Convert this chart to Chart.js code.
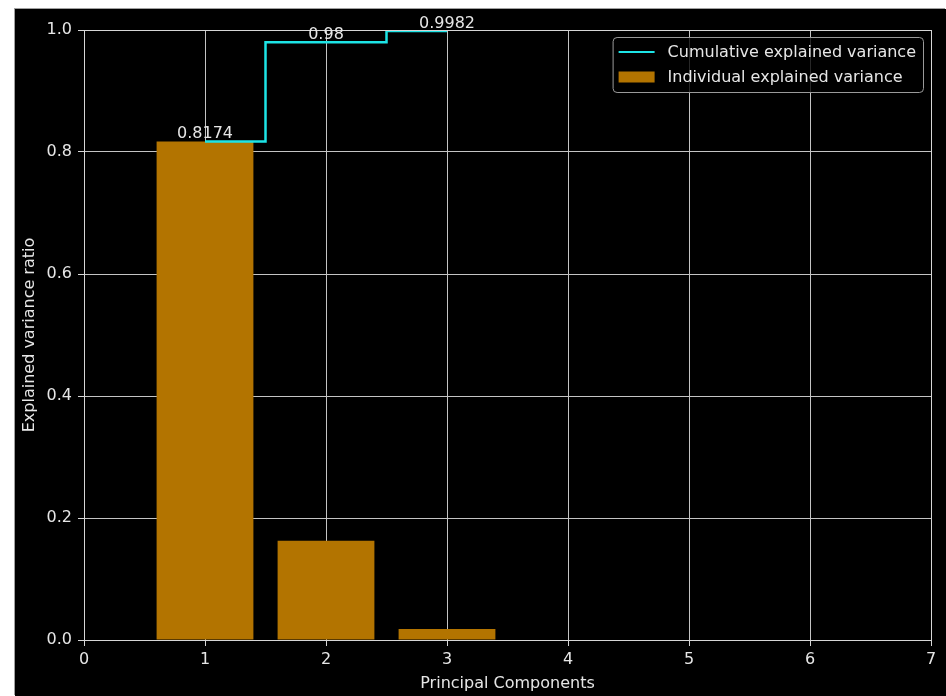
<!DOCTYPE html>
<html>
<head>
<meta charset="utf-8">
<script src="https://cdn.jsdelivr.net/npm/chart.js@4/dist/chart.umd.min.js"></script>
<style>
  html, body { margin: 0; padding: 0; background: #fff; }
  #frame { position: absolute; left: 15px; top: 9px; width: 931px; height: 687px; background: #000; box-shadow: -1px -1px 0 #a0a0a0; }
  canvas { display: block; }
</style>
</head>
<body>
<div id="frame"><canvas id="pca" width="931" height="687"></canvas></div>
<script>
/* PCA explained variance: individual bars + cumulative step line */
const components = [1, 2, 3];
const individualVariance = [0.8174, 0.1626, 0.0182];
const cumulativeVariance = [0.8174, 0.98, 0.9982];
const cumulativeLabels = ["0.8174", "0.98", "0.9982"];
const xRange = [0, 7];
const yRange = [0, 1];
const yStep = 0.2;

const TEXT = "#e6e6e6";
const GRID = "#c4c4c4";
const SPINE = "#d6d6d6";
const FONT = { family: "'DejaVu Sans', sans-serif", size: 16 };

Chart.defaults.font.family = FONT.family;
Chart.defaults.font.size = FONT.size;
Chart.defaults.color = TEXT;

// spines on all four sides (top/right aren't axes here)
const frameBox = {
  id: "frameBox",
  afterDraw(chart) {
    const { ctx, chartArea: a } = chart;
    ctx.save();
    ctx.strokeStyle = SPINE; ctx.lineWidth = 1;
    ctx.strokeRect(Math.round(a.left) + 0.5, Math.round(a.top) + 0.5, Math.round(a.right - a.left), Math.round(a.bottom - a.top));
    ctx.restore();
  }
};

// value labels above each cumulative point
const stepLabels = {
  id: "stepLabels",
  afterDraw(chart) {
    const meta = chart.getDatasetMeta(0);
    const ctx = chart.ctx;
    ctx.save();
    ctx.font = `${FONT.size}px ${FONT.family}`;
    ctx.fillStyle = TEXT; ctx.textAlign = "center"; ctx.textBaseline = "alphabetic";
    meta.data.forEach((pt, i) => ctx.fillText(cumulativeLabels[i], pt.x, pt.y - 3));
    ctx.restore();
  }
};

// matplotlib-style legend box inside the plot, upper right
const boxLegend = {
  id: "boxLegend",
  afterDraw(chart) {
    const { ctx, chartArea: a } = chart;
    const items = chart.data.datasets.map(d => ({ label: d.label, type: d.type || "bar", color: d.borderColor || d.backgroundColor, fill: d.backgroundColor }));
    ctx.save();
    ctx.font = `${FONT.size}px ${FONT.family}`;
    const tw = Math.max(...items.map(it => ctx.measureText(it.label).width));
    const w = 6 + 36 + 13 + tw + 7, h = 55;
    const x = a.right - 8 - w, y = a.top + 7;
    ctx.beginPath();
    ctx.roundRect(x + 0.5, y + 0.5, w, h, 4);
    ctx.fillStyle = "rgba(0,0,0,0.8)"; ctx.fill();
    ctx.strokeStyle = "#9a9a9a"; ctx.lineWidth = 1; ctx.stroke();
    items.forEach((it, i) => {
      const cy = y + 15 + i * 25;
      if (it.type === "line") {
        ctx.strokeStyle = it.color; ctx.lineWidth = 2;
        ctx.beginPath(); ctx.moveTo(x + 6, cy); ctx.lineTo(x + 42, cy); ctx.stroke();
      } else {
        ctx.fillStyle = it.fill; ctx.fillRect(x + 6, cy - 5.5, 36, 11);
      }
      ctx.fillStyle = TEXT; ctx.textAlign = "left"; ctx.textBaseline = "middle";
      ctx.fillText(it.label, x + 55, cy + 1);
    });
    ctx.restore();
  }
};

new Chart(document.getElementById("pca"), {
  type: "bar",
  data: {
    datasets: [
      {
        type: "line", label: "Cumulative explained variance", order: 0,
        data: components.map((c, i) => ({ x: c, y: cumulativeVariance[i] })),
        borderColor: "#1de4e6", backgroundColor: "#1de4e6", borderWidth: 2.5,
        stepped: "middle", pointRadius: 0, fill: false
      },
      {
        type: "bar", label: "Individual explained variance", order: 1,
        data: components.map((c, i) => ({ x: c, y: individualVariance[i] })),
        backgroundColor: "#b37400", borderWidth: 0,
        categoryPercentage: 1, barPercentage: 0.8
      }
    ]
  },
  options: {
    responsive: false, animation: false, devicePixelRatio: 1,
    layout: { padding: { top: 21, right: 15, left: 0, bottom: 0 } },
    plugins: { legend: { display: false }, tooltip: { enabled: false } },
    scales: {
      x: {
        type: "linear", min: xRange[0], max: xRange[1], z: 1, offset: false,
        ticks: { stepSize: 1, padding: 4, color: TEXT },
        grid: { offset: false, color: GRID, lineWidth: 1, tickColor: SPINE, tickLength: 6 },
        border: { color: SPINE, width: 1 },
        title: { display: true, text: "Principal Components", color: TEXT, padding: { top: 0, bottom: 3 } },
        afterFit(s) { s.height = 56; }
      },
      y: {
        min: yRange[0], max: yRange[1], z: 1,
        ticks: { stepSize: yStep, padding: 6, color: TEXT, callback: v => v.toFixed(1) },
        grid: { color: GRID, lineWidth: 1, tickColor: SPINE, tickLength: 6 },
        border: { color: SPINE, width: 1 },
        title: { display: true, text: "Explained variance ratio", color: TEXT, padding: { top: 5, bottom: 0 } },
        afterFit(s) { s.width = 69; }
      }
    }
  },
  plugins: [frameBox, stepLabels, boxLegend]
});
</script>
</body>
</html>
